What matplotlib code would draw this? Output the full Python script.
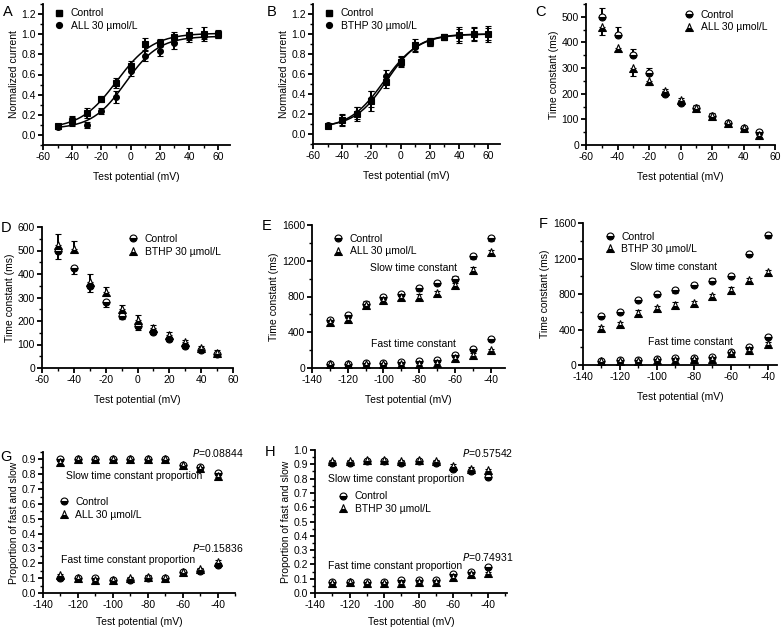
import numpy as np
import matplotlib
matplotlib.use("Agg")
import matplotlib.pyplot as plt
from matplotlib.lines import Line2D
from matplotlib.ticker import MultipleLocator

plt.rcParams['font.family'] = ['Liberation Sans', 'DejaVu Sans']
plt.rcParams['font.size'] = 7.5
plt.rcParams['axes.unicode_minus'] = False

# ---- data ----
v_act = np.arange(-50, 61, 10)
a_ctrl = [0.09, 0.14, 0.22, 0.36, 0.52, 0.68, 0.90, 0.91, 0.97, 0.99, 1.00, 1.00]
a_ctrl_err = [0.02, 0.05, 0.05, 0.03, 0.05, 0.05, 0.06, 0.04, 0.05, 0.07, 0.07, 0.04]
a_all = [0.08, 0.14, 0.10, 0.24, 0.38, 0.63, 0.78, 0.83, 0.91, 0.97, 0.98, 0.99]
a_all_err = [0.02, 0.04, 0.03, 0.03, 0.06, 0.04, 0.05, 0.05, 0.06, 0.03, 0.03, 0.03]

b_ctrl = [0.08, 0.14, 0.20, 0.33, 0.52, 0.72, 0.89, 0.92, 0.97, 0.99, 1.00, 1.00]
b_ctrl_err = [0.02, 0.06, 0.07, 0.10, 0.06, 0.05, 0.06, 0.04, 0.03, 0.08, 0.07, 0.08]
b_bthp = [0.09, 0.14, 0.21, 0.35, 0.58, 0.73, 0.87, 0.92, 0.97, 0.99, 1.00, 1.00]
b_bthp_err = [0.02, 0.05, 0.06, 0.08, 0.06, 0.05, 0.05, 0.04, 0.03, 0.06, 0.06, 0.06]

v_deact = np.arange(-50, 51, 10)
c_ctrl = [500, 430, 350, 280, 200, 165, 145, 115, 85, 65, 50]
c_ctrl_err = [35, 30, 25, 20, 20, 20, 10, 10, 10, 8, 8]
c_all = [460, 380, 300, 250, 210, 175, 145, 115, 85, 65, 40]
c_all_err = [30, 15, 30, 15, 10, 15, 10, 10, 10, 8, 8]

d_ctrl = [500, 425, 350, 280, 220, 180, 155, 125, 95, 75, 60]
d_ctrl_err = [35, 25, 25, 20, 10, 20, 10, 10, 10, 8, 8]
d_bthp = [525, 505, 365, 325, 250, 205, 170, 140, 110, 85, 65]
d_bthp_err = [45, 35, 35, 20, 20, 20, 15, 15, 10, 10, 10]

v_inact = np.arange(-130, -39, 10)
e_ctrl_slow = [540, 590, 720, 790, 830, 890, 950, 1000, 1250, 1450]
e_all_slow = [510, 550, 700, 760, 790, 800, 840, 930, 1100, 1300]
e_ctrl_fast = [50, 50, 55, 60, 65, 80, 85, 150, 210, 320]
e_all_fast = [40, 40, 45, 45, 50, 50, 60, 110, 150, 200]

f_ctrl_slow = [550, 600, 730, 800, 840, 900, 950, 1000, 1250, 1460]
f_bthp_slow = [420, 460, 590, 640, 680, 700, 780, 850, 960, 1050]
f_ctrl_fast = [50, 55, 60, 65, 75, 80, 90, 150, 200, 320]
f_bthp_fast = [45, 45, 50, 55, 60, 65, 70, 130, 170, 240]

g_ctrl_slow = [0.90, 0.90, 0.90, 0.90, 0.90, 0.90, 0.90, 0.86, 0.85, 0.81]
g_all_slow = [0.88, 0.90, 0.90, 0.90, 0.90, 0.90, 0.90, 0.86, 0.84, 0.79]
g_ctrl_fast = [0.10, 0.10, 0.10, 0.09, 0.09, 0.10, 0.10, 0.14, 0.15, 0.19]
g_all_fast = [0.12, 0.10, 0.09, 0.09, 0.10, 0.11, 0.10, 0.14, 0.16, 0.21]

h_ctrl_slow = [0.91, 0.91, 0.92, 0.92, 0.91, 0.92, 0.91, 0.87, 0.85, 0.81]
h_bthp_slow = [0.92, 0.92, 0.93, 0.93, 0.92, 0.93, 0.92, 0.89, 0.87, 0.86]
h_ctrl_fast = [0.08, 0.08, 0.08, 0.08, 0.09, 0.09, 0.09, 0.13, 0.15, 0.18]
h_bthp_fast = [0.07, 0.08, 0.07, 0.07, 0.07, 0.08, 0.08, 0.11, 0.13, 0.14]

fig = plt.figure(figsize=(7.84, 6.3), dpi=100)
W, H = 784, 630


def make_ax(l, r, t, b):
    ax = fig.add_axes([l / W, 1 - b / H, (r - l) / W, (b - t) / H])
    for s in ['top', 'right']:
        ax.spines[s].set_visible(False)
    for s in ['left', 'bottom']:
        ax.spines[s].set_linewidth(1.3)
    ax.tick_params(direction='out', length=3.5, width=1.3, labelsize=7.5, pad=1.5)
    ax.tick_params(which='minor', direction='out', length=2, width=1.0)
    return ax


def boltzmann_fit(x, y):
    # simple grid search fit of a Boltzmann curve to the points
    x = np.asarray(x, float)
    y = np.asarray(y, float)
    A1 = np.linspace(0.0, 0.12, 13)[:, None, None, None]
    A2 = np.linspace(0.94, 1.04, 11)[None, :, None, None]
    V0 = np.linspace(-30, 10, 81)[None, None, :, None]
    K = np.linspace(3, 20, 35)[None, None, None, :]
    pred = A2[..., None] + (A1[..., None] - A2[..., None]) / (1 + np.exp((x - V0[..., None]) / K[..., None]))
    sse = ((pred - y) ** 2).sum(axis=-1)
    i = np.unravel_index(np.argmin(sse), sse.shape)
    a1, a2, v0, k = A1.ravel()[i[0]], A2.ravel()[i[1]], V0.ravel()[i[2]], K.ravel()[i[3]]
    xs = np.linspace(x.min(), x.max(), 200)
    return xs, a2 + (a1 - a2) / (1 + np.exp((xs - v0) / k))


ekw = dict(ecolor='black', elinewidth=1.4, capsize=2.5, capthick=1.4, mec='black', mew=0.8, ls='none')


def full(ax, x, y, err, marker, ms):
    ax.errorbar(x, y, yerr=err, fmt=marker, ms=ms, mfc='black', **ekw)


def half(ax, x, y, err, marker, ms):
    ax.errorbar(x, y, yerr=err, fmt=marker, ms=ms, mfc='black',
                fillstyle='bottom', markerfacecoloralt='white', **ekw)


def half_handle(marker, ms):
    return Line2D([], [], ls='none', marker=marker, ms=ms, color='black', mfc='black',
                  fillstyle='bottom', markerfacecoloralt='white', mec='black', mew=0.8)


def full_handle(marker, ms):
    return Line2D([], [], ls='none', marker=marker, ms=ms, color='black', mfc='black', mec='black')


lkw = dict(frameon=False, handlelength=1.0, handletextpad=0.6, labelspacing=0.25, fontsize=7.5,
           borderaxespad=0, borderpad=0)

# ---- A ----
ax = make_ax(43, 230, 4, 145)
full(ax, v_act, a_ctrl, a_ctrl_err, 's', 3.8)
full(ax, v_act, a_all, a_all_err, 'o', 4.2)
for yy in (a_ctrl, a_all):
    xs, ys = boltzmann_fit(v_act, yy)
    ax.plot(xs, ys, color='black', lw=1.1)
ax.set_xlim(-60, 68)
ax.set_ylim(-0.1, 1.3)
ax.set_xticks(np.arange(-60, 61, 20))
ax.set_yticks(np.arange(0, 1.21, 0.2))
ax.xaxis.set_minor_locator(MultipleLocator(10))
ax.yaxis.set_minor_locator(MultipleLocator(0.1))
ax.set_xlabel('Test potential (mV)', labelpad=7)
ax.set_ylabel('Normalized current', labelpad=2)
ax.legend([full_handle('s', 3.8), full_handle('o', 4.2)], ['Control', 'ALL 30 µmol/L'],
          loc='upper left', bbox_to_anchor=(0.06, 0.97), **lkw)

# ---- B ----
ax = make_ax(313, 500, 4, 144)
full(ax, v_act, b_ctrl, b_ctrl_err, 's', 3.8)
full(ax, v_act, b_bthp, b_bthp_err, 'o', 4.2)
for yy in (b_ctrl, b_bthp):
    xs, ys = boltzmann_fit(v_act, yy)
    ax.plot(xs, ys, color='black', lw=1.1)
ax.set_xlim(-60, 68)
ax.set_ylim(-0.1, 1.3)
ax.set_xticks(np.arange(-60, 61, 20))
ax.set_yticks(np.arange(0, 1.21, 0.2))
ax.xaxis.set_minor_locator(MultipleLocator(10))
ax.yaxis.set_minor_locator(MultipleLocator(0.1))
ax.set_xlabel('Test potential (mV)', labelpad=7)
ax.set_ylabel('Normalized current', labelpad=2)
ax.legend([full_handle('s', 3.8), full_handle('o', 4.2)], ['Control', 'BTHP 30 µmol/L'],
          loc='upper left', bbox_to_anchor=(0.06, 0.97), **lkw)

# ---- C ----
ax = make_ax(586, 775, 4, 145)
half(ax, v_deact, c_ctrl, [np.zeros(len(c_ctrl)), c_ctrl_err], 'o', 5)
half(ax, v_deact, c_all, [c_all_err, np.zeros(len(c_all))], '^', 5.5)
ax.set_xlim(-60, 60)
ax.set_ylim(0, 550)
ax.set_xticks(np.arange(-60, 61, 20))
ax.set_yticks(np.arange(0, 501, 100))
ax.xaxis.set_minor_locator(MultipleLocator(10))
ax.yaxis.set_minor_locator(MultipleLocator(50))
ax.set_xlabel('Test potential (mV)', labelpad=7)
ax.set_ylabel('Time constant (ms)', labelpad=2)
ax.legend([half_handle('o', 5), half_handle('^', 5.5)], ['Control', 'ALL 30 µmol/L'],
          loc='upper left', bbox_to_anchor=(0.52, 0.96), **lkw)

# ---- D ----
ax = make_ax(42, 233, 227, 368)
half(ax, v_deact, d_ctrl, [d_ctrl_err, np.zeros(len(d_ctrl))], 'o', 5)
half(ax, v_deact, d_bthp, [np.zeros(len(d_bthp)), d_bthp_err], '^', 5.5)
ax.set_xlim(-60, 60)
ax.set_ylim(0, 600)
ax.set_xticks(np.arange(-60, 61, 20))
ax.set_yticks(np.arange(0, 601, 100))
ax.xaxis.set_minor_locator(MultipleLocator(10))
ax.yaxis.set_minor_locator(MultipleLocator(50))
ax.set_xlabel('Test potential (mV)', labelpad=7)
ax.set_ylabel('Time constant (ms)', labelpad=2)
ax.legend([half_handle('o', 5), half_handle('^', 5.5)], ['Control', 'BTHP 30 µmol/L'],
          loc='upper left', bbox_to_anchor=(0.45, 0.95), **lkw)

# ---- E ----
ax = make_ax(312, 505, 225, 368)
for yy, m, e in ((e_ctrl_slow, 'o', 25), (e_all_slow, '^', 25), (e_ctrl_fast, 'o', 15), (e_all_fast, '^', 15)):
    half(ax, v_inact, yy, e, m, 5 if m == 'o' else 5.5)
ax.set_xlim(-140, -32)
ax.set_ylim(0, 1600)
ax.set_xticks(np.arange(-140, -39, 20))
ax.set_yticks(np.arange(0, 1601, 400))
ax.xaxis.set_minor_locator(MultipleLocator(10))
ax.yaxis.set_minor_locator(MultipleLocator(200))
ax.set_xlabel('Test potential (mV)', labelpad=7)
ax.set_ylabel('Time constant (ms)', labelpad=2)
ax.text(-83, 1120, 'Slow time constant', ha='center', va='center')
ax.text(-83, 270, 'Fast time constant', ha='center', va='center')
ax.legend([half_handle('o', 5), half_handle('^', 5.5)], ['Control', 'ALL 30 µmol/L'],
          loc='upper left', bbox_to_anchor=(0.11, 0.94), **lkw)

# ---- F ----
ax = make_ax(583, 777, 223, 365)
for yy, m, e in ((f_ctrl_slow, 'o', 25), (f_bthp_slow, '^', 25), (f_ctrl_fast, 'o', 15), (f_bthp_fast, '^', 15)):
    half(ax, v_inact, yy, e, m, 5 if m == 'o' else 5.5)
ax.set_xlim(-140, -35)
ax.set_ylim(0, 1600)
ax.set_xticks(np.arange(-140, -39, 20))
ax.set_yticks(np.arange(0, 1601, 400))
ax.xaxis.set_minor_locator(MultipleLocator(10))
ax.yaxis.set_minor_locator(MultipleLocator(200))
ax.set_xlabel('Test potential (mV)', labelpad=7)
ax.set_ylabel('Time constant (ms)', labelpad=2)
ax.text(-91, 1100, 'Slow time constant', ha='center', va='center')
ax.text(-82, 260, 'Fast time constant', ha='center', va='center')
ax.legend([half_handle('o', 5), half_handle('^', 5.5)], ['Control', 'BTHP 30 µmol/L'],
          loc='upper left', bbox_to_anchor=(0.11, 0.94), **lkw)

# ---- G ----
ax = make_ax(43, 235, 452, 593)
for yy, m in ((g_ctrl_slow, 'o'), (g_all_slow, '^'), (g_ctrl_fast, 'o'), (g_all_fast, '^')):
    half(ax, v_inact, yy, 0.01, m, 5 if m == 'o' else 5.5)
ax.set_xlim(-140, -30)
ax.set_ylim(0, 0.95)
ax.set_xticks(np.arange(-140, -39, 20))
ax.set_yticks(np.arange(0, 0.91, 0.1))
ax.xaxis.set_minor_locator(MultipleLocator(10))
ax.yaxis.set_minor_locator(MultipleLocator(0.05))
ax.set_xlabel('Test potential (mV)', labelpad=5)
ax.set_ylabel('Proportion of fast and slow', labelpad=2)
ax.text(-40, 0.945, '$\\it{P}$=0.08844', ha='center', va='center', clip_on=False)
ax.text(-88, 0.79, 'Slow time constant proportion', ha='center', va='center')
ax.text(-40, 0.30, '$\\it{P}$=0.15836', ha='center', va='center', clip_on=False)
ax.text(-91, 0.22, 'Fast time constant proportion', ha='center', va='center')
ax.legend([half_handle('o', 5), half_handle('^', 5.5)], ['Control', 'ALL 30 µmol/L'],
          loc='upper left', bbox_to_anchor=(0.08, 0.68), **lkw)

# ---- H ----
ax = make_ax(315, 507, 450, 593)
for yy, m in ((h_ctrl_slow, 'o'), (h_bthp_slow, '^'), (h_ctrl_fast, 'o'), (h_bthp_fast, '^')):
    half(ax, v_inact, yy, 0.01, m, 5 if m == 'o' else 5.5)
ax.set_xlim(-140, -29)
ax.set_ylim(0, 1.0)
ax.set_xticks(np.arange(-140, -39, 20))
ax.set_yticks(np.arange(0, 1.01, 0.1))
ax.xaxis.set_minor_locator(MultipleLocator(10))
ax.yaxis.set_minor_locator(MultipleLocator(0.05))
ax.set_xlabel('Test potential (mV)', labelpad=5)
ax.set_ylabel('Proportion of fast and slow', labelpad=2)
ax.text(-40, 0.977, '$\\it{P}$=0.57542', ha='center', va='center', clip_on=False)
ax.text(-93, 0.80, 'Slow time constant proportion', ha='center', va='center')
ax.text(-40, 0.25, '$\\it{P}$=0.74931', ha='center', va='center', clip_on=False)
ax.text(-94, 0.19, 'Fast time constant proportion', ha='center', va='center')
ax.legend([half_handle('o', 5), half_handle('^', 5.5)], ['Control', 'BTHP 30 µmol/L'],
          loc='upper left', bbox_to_anchor=(0.12, 0.71), **lkw)

# panel letters
for lab, px, py in (('A', 8, 12), ('B', 272, 12), ('C', 541, 12), ('D', 6, 228),
                    ('E', 267, 226), ('F', 543, 224), ('G', 6, 457), ('H', 270, 452)):
    fig.text(px / W, 1 - py / H, lab, fontsize=10.5, ha='center', va='center')

fig.savefig('out.png', dpi=100)
